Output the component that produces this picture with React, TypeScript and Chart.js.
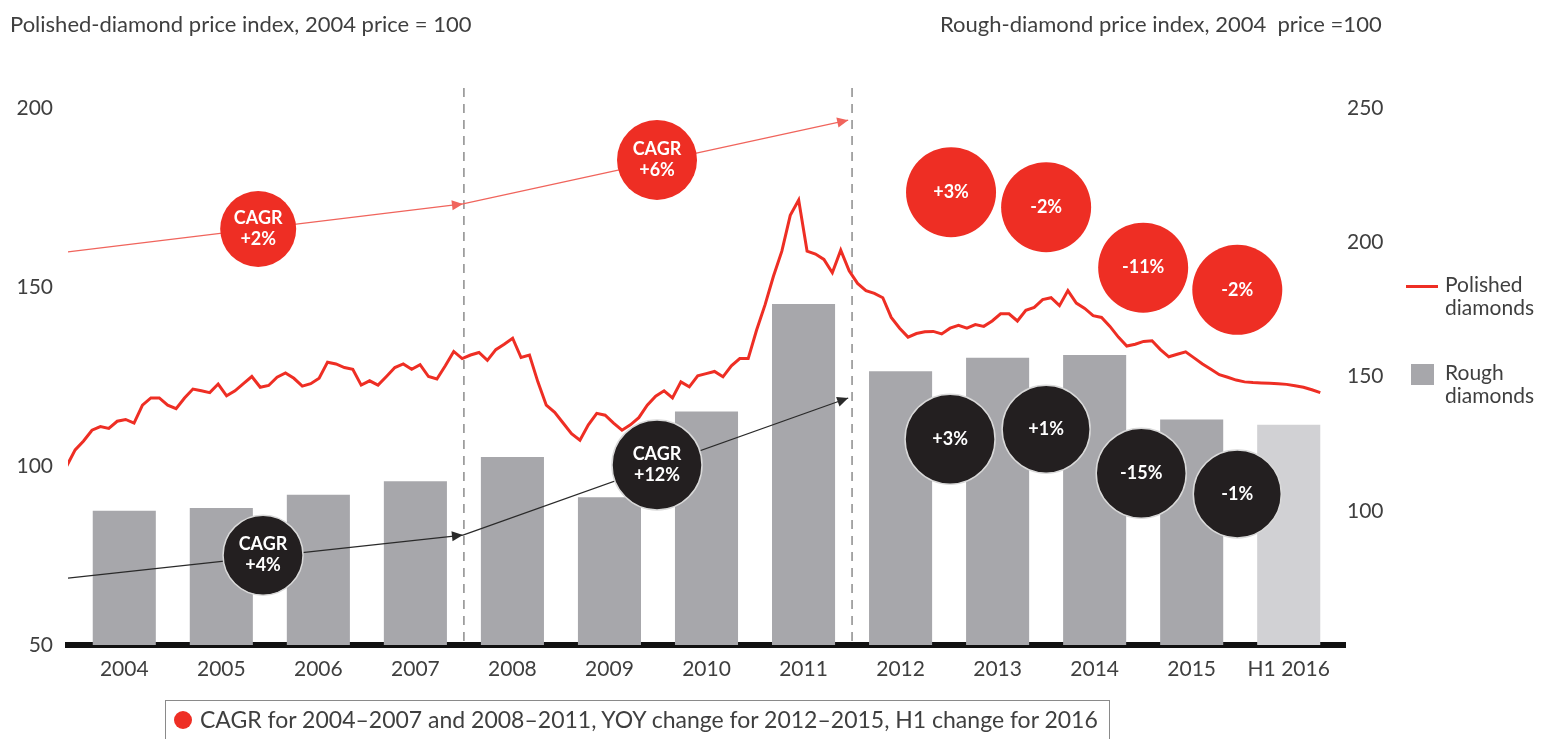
import React, { useEffect, useRef } from 'react';
import { Chart, registerables } from 'chart.js';

Chart.register(...registerables);

// ---------- DATA ----------
const categories = ['2004', '2005', '2006', '2007', '2008', '2009', '2010', '2011', '2012', '2013', '2014', '2015', 'H1 2016'];

// Rough-diamond price index (right axis), yearly bars
const roughIndex = [100, 101, 106, 111, 120, 105, 137, 177, 152, 157, 158, 134, 132];

// Polished-diamond price index (left axis), monthly Jan 2004 – Jun 2016
const polishedMonthly = [
  100, 104.5, 107, 110, 111, 110.5, 112.5, 113, 112, 117, 119, 119,
  117, 116, 119, 121.5, 121, 120.5, 122.9, 119.6, 121, 123, 125, 122,
  122.5, 124.8, 126, 124.5, 122.3, 123, 124.5, 129, 128.5, 127.5, 127, 122.6,
  123.8, 122.6, 125, 127.5, 128.5, 127, 128.3, 125, 124.3, 128, 132, 130,
  131, 131.7, 129.5, 132.5, 134, 135.7, 130.3, 131, 123.5, 117, 115, 112,
  109, 107.2, 111.5, 114.7, 114.2, 112, 110, 111.5, 113.5, 117, 119.5, 121,
  119, 123.5, 122.1, 125.2, 125.8, 126.4, 124.9, 128, 130, 130, 138, 145,
  153, 160, 170, 174.3, 160, 159.2, 157.7, 154, 160.3, 154.5, 151, 149,
  148.2, 147, 141.5, 138.5, 136, 137, 137.5, 137.6, 136.9, 138.5, 139.3, 138.5,
  139.5, 139, 140.5, 142.5, 142.5, 140.5, 143.5, 144.3, 146.5, 147, 144.8, 149,
  145.5, 144, 142, 141.5, 139, 136, 133.5, 134, 134.8, 135, 132.5, 130.5,
  131.2, 131.9, 130.2, 128.5, 127, 125.5, 124.8, 124, 123.5, 123.3, 123.2, 123.1,
  123, 122.8, 122.4, 122, 121.3, 120.5,
];
// Where the monthly series sits along the category axis (Jan 2004 start, width per month)
const lineStartX = -0.593;
const monthStep = 0.0867;

const leftTicks = [50, 100, 150, 200];
const rightTicks = [100, 150, 200, 250];

// Annotation circles: x in category units, y on the polished (left) axis
const redCircleLabels = ['CAGR\n+2%', 'CAGR\n+6%', '+3%', '-2%', '-11%', '-2%'];
const redCircleX = [1.38, 5.49, 8.52, 9.5, 10.5, 11.47];
const redCircleY = [166.2, 185.5, 176.5, 172.3, 155.4, 149.2];
const redCircleR = [38, 40, 45, 45, 45, 45];

const blackCircleLabels = ['CAGR\n+4%', 'CAGR\n+12%', '+3%', '+1%', '-15%', '-1%'];
const blackCircleX = [1.43, 5.49, 8.51, 9.5, 10.48, 11.47];
const blackCircleY = [75.1, 100.3, 107.5, 110.3, 98, 92.2];
const blackCircleR = [40, 45, 45, 44, 45, 44];

// Trend arrows (CAGR periods)
const redTrendX = [-0.58, 3.49, 7.46];
const redTrendY = [159.8, 173.2, 196.6];
const blackTrendX = [-0.58, 3.49, 7.46];
const blackTrendY = [68.7, 80.7, 119];

const periodBreaks = [3.5, 7.5];

// ---------- STYLE ----------
const FONT = 'Lato, "Open Sans", sans-serif';
const TEXT = '#3f3f3f';
const RED = '#EE2E24';
const DARK = '#231F20';
const BAR = '#A7A7AB';
const BAR_LIGHT = '#D1D1D4';

function arrow(ctx: CanvasRenderingContext2D, x0: number, y0: number, x1: number, y1: number, color: string) {
  ctx.save();
  ctx.strokeStyle = color;
  ctx.fillStyle = color;
  ctx.lineWidth = 1.2;
  ctx.beginPath();
  ctx.moveTo(x0, y0);
  ctx.lineTo(x1, y1);
  ctx.stroke();
  const a = Math.atan2(y1 - y0, x1 - x0);
  const L = 11, W = 5;
  ctx.beginPath();
  ctx.moveTo(x1, y1);
  ctx.lineTo(x1 - L * Math.cos(a) + W * Math.sin(a), y1 - L * Math.sin(a) - W * Math.cos(a));
  ctx.lineTo(x1 - L * Math.cos(a) - W * Math.sin(a), y1 - L * Math.sin(a) + W * Math.cos(a));
  ctx.closePath();
  ctx.fill();
  ctx.restore();
}

function circle(ctx: CanvasRenderingContext2D, x: number, y: number, r: number, fill: string, label: string, stroke?: string) {
  ctx.save();
  ctx.beginPath();
  ctx.arc(x, y, r, 0, Math.PI * 2);
  ctx.fillStyle = fill;
  ctx.fill();
  if (stroke) {
    ctx.lineWidth = 1.5;
    ctx.strokeStyle = stroke;
    ctx.stroke();
  }
  ctx.fillStyle = '#ffffff';
  ctx.font = `bold 18px ${FONT}`;
  ctx.textAlign = 'center';
  ctx.textBaseline = 'middle';
  const lines = label.split('\n');
  const lh = 21;
  lines.forEach((ln, i) => {
    ctx.fillText(ln, x, y + (i - (lines.length - 1) / 2) * lh);
  });
  ctx.restore();
}

const annotations = {
  id: 'annotations',
  beforeDatasetsDraw(chart: any) {
    const { ctx, chartArea, scales } = chart;
    ctx.save();
    ctx.strokeStyle = '#8c8c8c';
    ctx.lineWidth = 1.5;
    ctx.setLineDash([9, 7]);
    periodBreaks.forEach((b) => {
      const px = scales.x.getPixelForValue(b);
      ctx.beginPath();
      ctx.moveTo(px, chartArea.top - 20);
      ctx.lineTo(px, chartArea.bottom);
      ctx.stroke();
    });
    ctx.restore();
  },
  afterDatasetsDraw(chart: any) {
    const { ctx, scales } = chart;
    const X = (v: number) => scales.x.getPixelForValue(v);
    const Y = (v: number) => scales.yL.getPixelForValue(v);
    for (let i = 0; i < redTrendX.length - 1; i++) {
      arrow(ctx, X(redTrendX[i]), Y(redTrendY[i]), X(redTrendX[i + 1]), Y(redTrendY[i + 1]), '#F0645C');
    }
    for (let i = 0; i < blackTrendX.length - 1; i++) {
      arrow(ctx, X(blackTrendX[i]), Y(blackTrendY[i]), X(blackTrendX[i + 1]), Y(blackTrendY[i + 1]), '#2a2a2a');
    }
    redCircleLabels.forEach((lab, i) => circle(ctx, X(redCircleX[i]), Y(redCircleY[i]), redCircleR[i], RED, lab));
    blackCircleLabels.forEach((lab, i) => circle(ctx, X(blackCircleX[i]), Y(blackCircleY[i]), blackCircleR[i], DARK, lab, '#d9d9d9'));
  },
};

export default function App() {
  const ref = useRef<HTMLCanvasElement>(null);

  useEffect(() => {
    const canvas = ref.current!;
    const chart = new Chart(canvas, {
      type: 'line',
      data: {
        datasets: [
          {
            type: 'line',
            label: 'Polished diamonds',
            data: polishedMonthly.map((v, i) => ({ x: lineStartX + i * monthStep, y: v })),
            xAxisID: 'x',
            yAxisID: 'yL',
            borderColor: RED,
            borderWidth: 3,
            pointRadius: 0,
            tension: 0,
            order: 0,
          } as any,
          {
            type: 'bar',
            label: 'Rough diamonds',
            data: roughIndex.map((v, i) => ({ x: i, y: v })),
            xAxisID: 'x',
            yAxisID: 'yR',
            backgroundColor: (c: any) => (c.dataIndex === categories.length - 1 ? BAR_LIGHT : BAR),
            barPercentage: 0.65,
            categoryPercentage: 1,
            order: 1,
          } as any,
        ],
      },
      options: {
        responsive: false,
        animation: false,
        layout: { padding: { left: 8, right: 0, top: 108, bottom: 44 } },
        plugins: { legend: { display: false }, tooltip: { enabled: false } },
        scales: {
          x: {
            type: 'linear',
            position: 'bottom',
            offset: false,
            min: -0.58,
            max: 12.58,
            z: 1,
            grid: { display: false, drawTicks: false, offset: false },
            border: { display: true, color: '#111111', width: 6 },
            afterBuildTicks: (s: any) => {
              s.ticks = categories.map((_, i) => ({ value: i }));
            },
            afterFit: (s: any) => {
              s.height = 50;
            },
            ticks: {
              autoSkip: false,
              maxRotation: 0,
              padding: 12,
              color: TEXT,
              font: { family: FONT, size: 21 },
              callback: (v: any) => categories[v] ?? '',
            },
          },
          yL: {
            type: 'linear',
            position: 'left',
            min: 50,
            max: 200,
            stacked: false,
            grid: { display: false, drawTicks: false },
            border: { display: false },
            afterBuildTicks: (s: any) => {
              s.ticks = leftTicks.map((v) => ({ value: v }));
            },
            afterFit: (s: any) => {
              s.width = 60;
            },
            ticks: { padding: 15, color: TEXT, font: { family: FONT, size: 21 } },
          },
          yR: {
            type: 'linear',
            position: 'right',
            min: 50,
            max: 250,
            stacked: false,
            grid: { display: false, drawTicks: false },
            border: { display: false },
            afterBuildTicks: (s: any) => {
              s.ticks = rightTicks.map((v) => ({ value: v }));
            },
            afterFit: (s: any) => {
              s.width = 199;
            },
            ticks: { padding: 2, color: TEXT, font: { family: FONT, size: 21 } },
          },
        },
      } as any,
      plugins: [annotations],
    });
    return () => chart.destroy();
  }, []);

  const txt: React.CSSProperties = { position: 'absolute', fontFamily: FONT, color: TEXT, whiteSpace: 'nowrap' };

  return (
    <div style={{ position: 'fixed', left: 0, top: 0, width: 1544, height: 739, background: '#fff', overflow: 'hidden' }}>
      <canvas ref={ref} width={1544} height={739} style={{ display: 'block', width: 1544, height: 739 }} />
      <div style={{ ...txt, left: 10, top: 10, fontSize: 22 }}>Polished-diamond price index, 2004 price = 100</div>
      <div style={{ ...txt, left: 940, top: 10, fontSize: 22 }}>Rough-diamond price index, 2004 &nbsp;price =100</div>

      <div style={{ position: 'absolute', left: 1406, top: 285, width: 32, height: 3, background: RED }} />
      <div style={{ ...txt, left: 1445, top: 272, fontSize: 21, lineHeight: '23px' }}>Polished<br />diamonds</div>
      <div style={{ position: 'absolute', left: 1411, top: 364, width: 23, height: 21, background: BAR }} />
      <div style={{ ...txt, left: 1445, top: 360, fontSize: 21, lineHeight: '23px' }}>Rough<br />diamonds</div>

      <div style={{ position: 'absolute', left: 165, top: 700, width: 945, height: 50, border: '1px solid #8a8a8a', boxSizing: 'border-box' }} />
      <div style={{ position: 'absolute', left: 174, top: 711, width: 18, height: 18, borderRadius: '50%', background: RED }} />
      <div style={{ ...txt, left: 200, top: 705, fontSize: 23 }}>CAGR for 2004–2007 and 2008–2011, YOY change for 2012–2015, H1 change for 2016</div>
    </div>
  );
}
